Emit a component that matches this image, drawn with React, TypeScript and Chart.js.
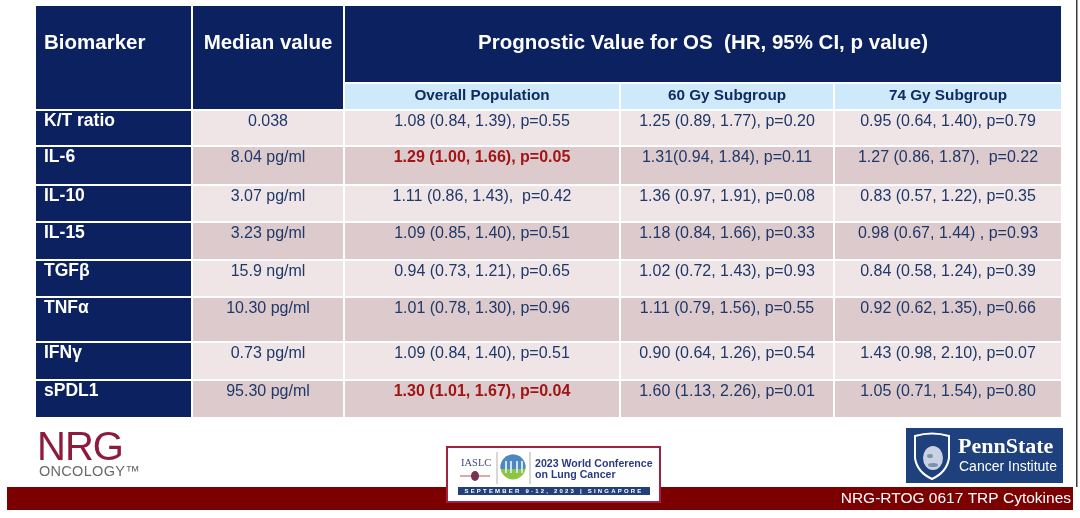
import { useEffect, useRef } from 'react';
import { Chart, registerables } from 'chart.js';

Chart.register(...registerables);

// ---------- table content ----------
const headerLabels = ['Biomarker', 'Median value'];
const groupTitle = 'Prognostic Value for OS  (HR, 95% CI, p value)';
const subgroupLabels = ['Overall Population', '60 Gy Subgroup', '74 Gy Subgroup'];

const biomarkers = ['K/T ratio', 'IL-6', 'IL-10', 'IL-15', 'TGFβ', 'TNFα', 'IFNγ', 'sPDL1'];
const medianValues = ['0.038', '8.04 pg/ml', '3.07 pg/ml', '3.23 pg/ml', '15.9 ng/ml', '10.30 pg/ml', '0.73 pg/ml', '95.30 pg/ml'];
const overallPopulation = [
  '1.08 (0.84, 1.39), p=0.55',
  '1.29 (1.00, 1.66), p=0.05',
  '1.11 (0.86, 1.43),  p=0.42',
  '1.09 (0.85, 1.40), p=0.51',
  '0.94 (0.73, 1.21), p=0.65',
  '1.01 (0.78, 1.30), p=0.96',
  '1.09 (0.84, 1.40), p=0.51',
  '1.30 (1.01, 1.67), p=0.04',
];
const subgroup60Gy = [
  '1.25 (0.89, 1.77), p=0.20',
  '1.31(0.94, 1.84), p=0.11',
  '1.36 (0.97, 1.91), p=0.08',
  '1.18 (0.84, 1.66), p=0.33',
  '1.02 (0.72, 1.43), p=0.93',
  '1.11 (0.79, 1.56), p=0.55',
  '0.90 (0.64, 1.26), p=0.54',
  '1.60 (1.13, 2.26), p=0.01',
];
const subgroup74Gy = [
  '0.95 (0.64, 1.40), p=0.79',
  '1.27 (0.86, 1.87),  p=0.22',
  '0.83 (0.57, 1.22), p=0.35',
  '0.98 (0.67, 1.44) , p=0.93',
  '0.84 (0.58, 1.24), p=0.39',
  '0.92 (0.62, 1.35), p=0.66',
  '1.43 (0.98, 2.10), p=0.07',
  '1.05 (0.71, 1.54), p=0.80',
];
const significantOverall = [false, true, false, false, false, false, false, true];

const footerText = 'NRG-RTOG 0617 TRP Cytokines';
const conferenceLines = ['2023 World Conference', 'on Lung Cancer'];
const conferenceDates = 'SEPTEMBER 9-12, 2023 | SINGAPORE';

// ---------- layout & style ----------
const W = 1080;
const H = 518;
const TABLE_X = 36;
const TABLE_Y = 6;
const GAP = 2;
const COL_WIDTHS = [155, 150, 274, 212, 226];
const GROUP_H = 76;
const SUB_H = 25;
const ROW_HEIGHTS = [34, 37, 35, 36, 35, 43, 36, 36];

const NAVY = '#0c215f';
const PINK_LIGHT = '#efe5e6';
const PINK_DARK = '#ddcacc';
const SUB_BLUE = '#cde9fa';
const TEXT_BLUE = '#1f3868';
const SIG_RED = '#a01515';
const MAROON = '#7d0000';
const SANS = "'Liberation Sans', Arial, sans-serif";

const tablePlugin = {
  id: 'tableDraw',
  beforeDraw(chart: any) {
    const { ctx, scales } = chart;
    const X = (v: number) => scales.x.getPixelForValue(v);
    const Y = (v: number) => scales.y.getPixelForValue(v);
    const rect = (x0: number, y0: number, x1: number, y1: number, color: string) => {
      ctx.fillStyle = color;
      ctx.fillRect(X(x0), Y(y0), X(x1) - X(x0), Y(y1) - Y(y0));
    };
    const text = (s: string, xv: number, yv: number, font: string, color: string, align = 'left', spacing = '0px') => {
      ctx.font = font;
      ctx.fillStyle = color;
      ctx.textAlign = align;
      ctx.textBaseline = 'middle';
      (ctx as any).letterSpacing = spacing;
      ctx.fillText(s, X(xv), Y(yv));
      (ctx as any).letterSpacing = '0px';
    };

    ctx.save();
    rect(0, 0, W, H, '#ffffff');

    // column edges
    const cols: number[][] = [];
    let cx = TABLE_X;
    COL_WIDTHS.forEach((w) => {
      cols.push([cx, cx + w]);
      cx += w + GAP;
    });
    const groupTop = TABLE_Y;
    const groupBottom = groupTop + GROUP_H;
    const subTop = groupBottom + GAP;
    const subBottom = subTop + SUB_H;
    const rows: number[][] = [];
    let ry = subBottom + GAP;
    ROW_HEIGHTS.forEach((h) => {
      rows.push([ry, ry + h]);
      ry += h + GAP;
    });

    // header
    rect(cols[0][0], groupTop, cols[0][1], subBottom, NAVY);
    rect(cols[1][0], groupTop, cols[1][1], subBottom, NAVY);
    rect(cols[2][0], groupTop, cols[4][1], groupBottom, NAVY);
    for (let c = 2; c < 5; c++) rect(cols[c][0], subTop, cols[c][1], subBottom, SUB_BLUE);
    const hy = groupTop + 37;
    text(headerLabels[0], cols[0][0] + 8, hy, `bold 20.5px ${SANS}`, '#ffffff');
    text(headerLabels[1], (cols[1][0] + cols[1][1]) / 2, hy, `bold 20.5px ${SANS}`, '#ffffff', 'center');
    text(groupTitle, (cols[2][0] + cols[4][1]) / 2, hy, `bold 20.5px ${SANS}`, '#ffffff', 'center');
    subgroupLabels.forEach((s, i) => {
      const c = cols[i + 2];
      text(s, (c[0] + c[1]) / 2, (subTop + subBottom) / 2 - 1, `bold 15.3px ${SANS}`, '#112a62', 'center');
    });

    // body rows
    const columnsText = [medianValues, overallPopulation, subgroup60Gy, subgroup74Gy];
    biomarkers.forEach((name, r) => {
      const [t, b] = rows[r];
      const fill = r % 2 === 0 ? PINK_LIGHT : PINK_DARK;
      rect(cols[0][0], t, cols[0][1], b, NAVY);
      for (let c = 1; c < 5; c++) rect(cols[c][0], t, cols[c][1], b, fill);
      const ty = t + 10.5;
      text(name, cols[0][0] + 8, ty, `bold 17.5px ${SANS}`, '#ffffff');
      columnsText.forEach((arr, k) => {
        const c = cols[k + 1];
        const sig = k === 1 && significantOverall[r];
        text(arr[r], (c[0] + c[1]) / 2, ty, `${sig ? 'bold ' : ''}16px ${SANS}`, sig ? SIG_RED : TEXT_BLUE, 'center');
      });
    });

    // right frame line
    ctx.fillStyle = '#3a3a3a';
    ctx.fillRect(X(1076), Y(0), X(1077.5) - X(1076), Y(487) - Y(0));

    // footer bar
    rect(7, 487, 1073, 510, MAROON);
    text(footerText, 1071, 499, `15.5px ${SANS}`, '#ffffff', 'right');

    // NRG Oncology logo
    text('NRG', 37, 449, `40px ${SANS}`, '#8e1b3c', 'left', '-1px');
    text('ONCOLOGY™', 39, 472, `14.5px ${SANS}`, '#6a6a6a', 'left', '0.3px');

    // IASLC conference logo
    ctx.fillStyle = '#ffffff';
    ctx.fillRect(X(447), Y(447), X(660) - X(447), Y(502) - Y(447));
    ctx.strokeStyle = '#a3213f';
    ctx.lineWidth = 2;
    ctx.strokeRect(X(447), Y(447), X(660) - X(447), Y(502) - Y(447));
    text('IASLC', 461, 463, `10.5px 'Liberation Serif', serif`, '#3b4a7a');
    ctx.strokeStyle = '#c0504d';
    ctx.lineWidth = 1;
    ctx.beginPath();
    ctx.moveTo(X(460), Y(476));
    ctx.lineTo(X(490), Y(476));
    ctx.stroke();
    ctx.fillStyle = '#7a3050';
    ctx.beginPath();
    ctx.ellipse(X(475), Y(476), 4, 5, 0, 0, Math.PI * 2);
    ctx.fill();
    ctx.strokeStyle = '#b0b0b0';
    [497, 530].forEach((lx) => {
      ctx.beginPath();
      ctx.moveTo(X(lx), Y(452));
      ctx.lineTo(X(lx), Y(484));
      ctx.stroke();
    });
    // emblem circle
    ctx.save();
    ctx.beginPath();
    ctx.arc(X(513), Y(467), 12.5, 0, Math.PI * 2);
    ctx.clip();
    ctx.fillStyle = '#8cc63f';
    ctx.fillRect(X(500), Y(454), 26, 26);
    ctx.fillStyle = '#4f86c4';
    ctx.fillRect(X(500), Y(454), 26, 15);
    ctx.fillStyle = '#cfe3f5';
    [505, 510, 516, 521].forEach((sx) => ctx.fillRect(X(sx), Y(461), 2, 12));
    ctx.restore();
    text(conferenceLines[0], 535, 464, `bold 10.6px ${SANS}`, '#2b3b80');
    text(conferenceLines[1], 535, 475, `bold 10.6px ${SANS}`, '#2b3b80');
    ctx.fillStyle = '#23407a';
    ctx.fillRect(X(458), Y(487), X(650) - X(458), Y(495) - Y(487));
    text(conferenceDates, 554, 491.3, `bold 6px ${SANS}`, '#ffffff', 'center', '2.2px');

    // Penn State logo
    ctx.fillStyle = '#1e407c';
    ctx.fillRect(X(906), Y(428), X(1063) - X(906), Y(483) - Y(428));
    ctx.strokeStyle = '#ffffff';
    ctx.lineWidth = 2;
    ctx.beginPath();
    ctx.moveTo(X(915), Y(436));
    ctx.quadraticCurveTo(X(932), Y(431), X(949), Y(436));
    ctx.lineTo(X(949), Y(458));
    ctx.quadraticCurveTo(X(947), Y(472), X(932), Y(479));
    ctx.quadraticCurveTo(X(917), Y(472), X(915), Y(458));
    ctx.closePath();
    ctx.stroke();
    ctx.fillStyle = '#c8d2e2';
    ctx.beginPath();
    ctx.ellipse(X(933), Y(458), 10, 12, 0, 0, Math.PI * 2);
    ctx.fill();
    ctx.fillStyle = '#7f8fae';
    ctx.beginPath();
    ctx.ellipse(X(930), Y(456), 3, 2, 0, 0, Math.PI * 2);
    ctx.ellipse(X(933), Y(465), 5, 2, 0, 0, Math.PI * 2);
    ctx.fill();
    text('PennState', 958, 447, `bold 22px 'Liberation Serif', serif`, '#ffffff');
    text('Cancer Institute', 959, 467, `14px ${SANS}`, '#ffffff');

    ctx.restore();
  },
};

export default function App() {
  const canvasRef = useRef<HTMLCanvasElement | null>(null);

  useEffect(() => {
    document.body.style.margin = '0';
    const canvas = canvasRef.current;
    if (!canvas) return;
    const chart = new Chart(canvas, {
      type: 'scatter',
      data: { datasets: [] },
      options: {
        animation: false,
        responsive: false,
        devicePixelRatio: 1,
        events: [],
        layout: { padding: 0 },
        scales: {
          x: { type: 'linear', min: 0, max: W, display: false },
          y: { type: 'linear', min: 0, max: H, reverse: true, display: false },
        },
        plugins: { legend: { display: false }, tooltip: { enabled: false } },
      },
      plugins: [tablePlugin],
    } as any);
    return () => chart.destroy();
  }, []);

  return (
    <div style={{ position: 'absolute', left: 0, top: 0, width: W, height: H, background: '#fff' }}>
      <canvas ref={canvasRef} width={W} height={H} style={{ display: 'block', width: W, height: H }} />
    </div>
  );
}
